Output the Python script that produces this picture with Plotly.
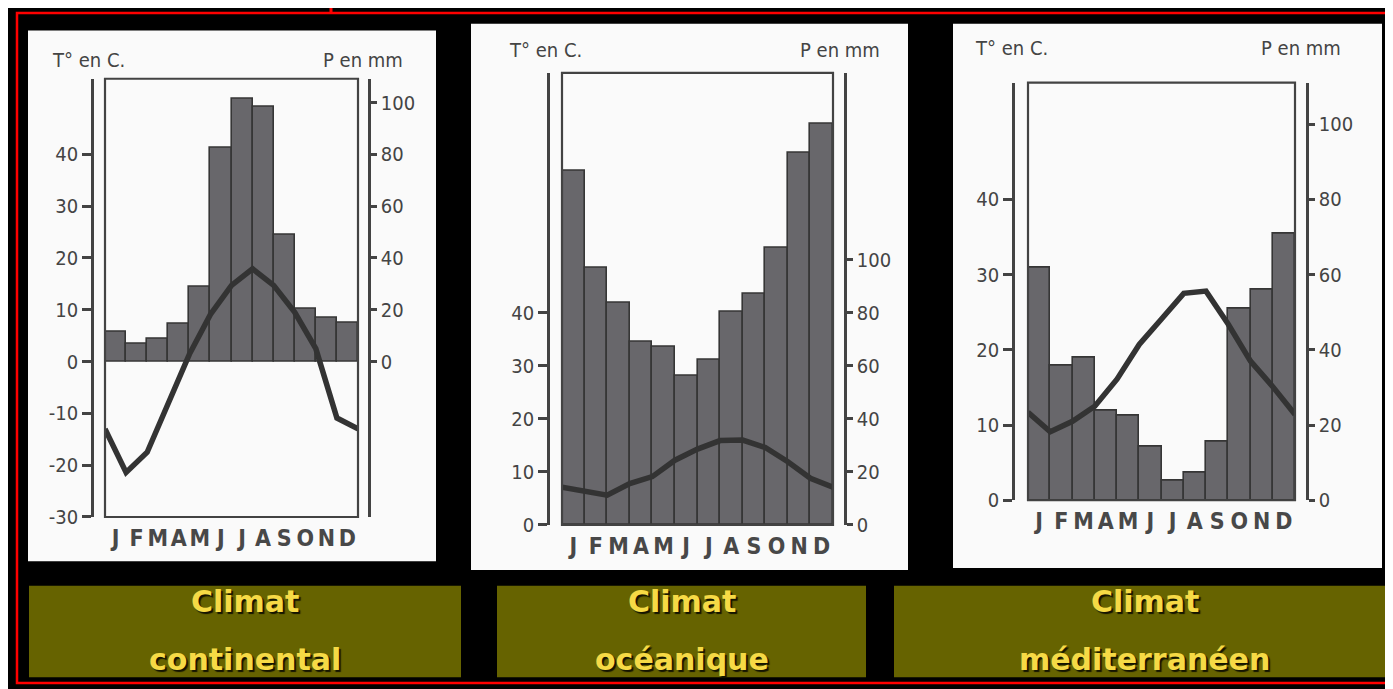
import plotly.graph_objects as go

W, H = 1393, 689

months = ["J", "F", "M", "A", "M", "J", "J", "A", "S", "O", "N", "D"]

# precipitation (mm) per month, temperature (°C) at month boundaries (as drawn)
precip_continental = [11.5, 7.0, 8.7, 14.7, 28.8, 82.4, 101.5, 98.5, 49.1, 20.4, 16.8, 15.0]
temp_continental = [-13.0, -21.4, -17.5, -8.3, 1.4, 9.1, 14.7, 17.9, 14.7, 9.5, 2.5, -10.9, -13.0]

precip_oceanique = [133.8, 97.0, 83.9, 69.2, 67.1, 56.1, 62.3, 80.5, 87.3, 104.7, 140.3, 151.3]
temp_oceanique = [7.1, 6.4, 5.6, 7.8, 9.1, 12.2, 14.3, 15.9, 16.0, 14.6, 11.9, 8.8, 7.1]

precip_mediterraneen = [61.8, 35.9, 37.9, 23.8, 22.5, 14.3, 5.3, 7.3, 15.5, 50.8, 56.0, 70.9]
temp_mediterraneen = [11.7, 9.1, 10.5, 12.5, 16.1, 20.7, 24.1, 27.5, 27.8, 23.4, 18.5, 15.1, 11.4]

temp_ticks_continental = [-30, -20, -10, 0, 10, 20, 30, 40]
temp_ticks_other = [0, 10, 20, 30, 40]
precip_ticks = [0, 20, 40, 60, 80, 100]

titles = [("Climat", "continental"), ("Climat", "océanique"), ("Climat", "méditerranéen")]


def px(x):
    return x / W


def py(y):
    return 1 - y / H


panels = [
    dict(precip=precip_continental, temp=temp_continental, tticks=temp_ticks_continental,
         frame=(97, 350, 72, 518), left=84, right=361, trange=[-30, 54.6],
         white=(20, 428, 23, 563), tlab=(80, 53), plab=(355, 53), box=(21, 453)),
    dict(precip=precip_oceanique, temp=temp_oceanique, tticks=temp_ticks_other,
         frame=(554, 825, 66, 526), left=540, right=837, trange=[0, 85.3],
         white=(463, 900, 16, 572), tlab=(537, 43), plab=(832, 43), box=(489, 858)),
    dict(precip=precip_mediterraneen, temp=temp_mediterraneen, tticks=temp_ticks_other,
         frame=(1020, 1287, 76, 501), left=1005, right=1299, trange=[0, 55.5],
         white=(945, 1374, 16, 570), tlab=(1003, 41), plab=(1293, 41), box=(886, 1387)),
]

INK = "#434343"
NARROW = "DejaVu Sans Condensed, Liberation Sans Narrow, DejaVu Sans, sans-serif"
TITLEFONT = "DejaVu Sans, sans-serif"

fig = go.Figure()
shapes = []
annotations = []
layout_axes = {}

for i, p in enumerate(panels):
    xn = "" if i == 0 else str(i + 1)
    yb = "" if i == 0 else str(2 * i + 1)   # base axis: precipitation (right side)
    yo = str(2 * i + 2)                     # overlay axis: temperature (left side)
    xref, ybref, yoref = "x" + xn, "y" + yb, "y" + yo
    fx0, fx1, fy0, fy1 = p["frame"]
    xdom = [px(fx0), px(fx1)]
    ydom = [py(fy1), py(fy0)]

    fig.add_trace(go.Bar(
        x=list(range(12)), y=p["precip"], xaxis=xref, yaxis=ybref,
        marker=dict(color="#68676b", line=dict(color="#363636", width=1.6)),
        showlegend=False, hoverinfo="skip"))
    fig.add_trace(go.Scatter(
        x=[k - 0.5 for k in range(13)], y=p["temp"], xaxis=xref, yaxis=yoref,
        mode="lines", line=dict(color="#333333", width=5.5),
        showlegend=False, hoverinfo="skip", cliponaxis=False))

    layout_axes["xaxis" + xn] = dict(
        domain=xdom, anchor=ybref, range=[-0.5, 11.5],
        tickmode="array", tickvals=list(range(12)), ticktext=months,
        ticks="", showline=False, showgrid=False, zeroline=False,
        ticklabelstandoff=5,
        tickfont=dict(family=NARROW, size=23, color="#484848", weight="bold"),
        fixedrange=True)
    layout_axes["yaxis" + yb] = dict(
        domain=ydom, side="right", anchor="free", position=px(p["right"]),
        range=[2 * p["trange"][0], 2 * p["trange"][1]],
        tickmode="array", tickvals=precip_ticks, ticktext=[str(v) for v in precip_ticks],
        showline=True, linecolor=INK, linewidth=2.6,
        ticks="outside", ticklen=6, tickwidth=2.6, tickcolor=INK,
        showgrid=False, zeroline=False,
        tickfont=dict(family=NARROW, size=20, color="#444444"),
        fixedrange=True)
    layout_axes["yaxis" + yo] = dict(
        overlaying=ybref, side="left", anchor="free", position=px(p["left"]),
        range=p["trange"],
        tickmode="array", tickvals=p["tticks"], ticktext=[str(v) for v in p["tticks"]],
        showline=True, linecolor=INK, linewidth=2.6,
        ticks="outside", ticklen=9, tickwidth=2.8, tickcolor=INK,
        showgrid=False, zeroline=False,
        tickfont=dict(family=NARROW, size=20, color="#444444"),
        fixedrange=True)

    # white card
    wx0, wx1, wy0, wy1 = p["white"]
    shapes.append(dict(type="rect", xref="paper", yref="paper", layer="below",
                       x0=px(wx0), x1=px(wx1), y0=py(wy1), y1=py(wy0),
                       fillcolor="#fafafa", line=dict(width=0)))
    # plot frame
    shapes.append(dict(type="rect", xref=xref + " domain", yref=ybref + " domain",
                       x0=0, x1=1, y0=0, y1=1, layer="above",
                       line=dict(color=INK, width=2.2), fillcolor="rgba(0,0,0,0)"))
    # olive label box
    bx0, bx1 = p["box"]
    shapes.append(dict(type="rect", xref="paper", yref="paper", layer="below",
                       x0=px(bx0), x1=px(bx1), y0=py(681), y1=py(588),
                       fillcolor="#666300", line=dict(width=0)))

    annotations.append(dict(text="T° en C.", x=px(p["tlab"][0]), y=py(p["tlab"][1]),
                            xref="paper", yref="paper", showarrow=False,
                            xanchor="center", yanchor="middle",
                            font=dict(family=NARROW, size=20, color="#444444")))
    annotations.append(dict(text="P en mm", x=px(p["plab"][0]), y=py(p["plab"][1]),
                            xref="paper", yref="paper", showarrow=False,
                            xanchor="center", yanchor="middle",
                            font=dict(family=NARROW, size=20, color="#444444")))
    cx = px((bx0 + bx1) / 2)
    for line_text, yy in zip(titles[i], (604, 663)):
        annotations.append(dict(text=line_text, x=cx, y=py(yy), xref="paper", yref="paper",
                                showarrow=False, xanchor="center", yanchor="middle",
                                font=dict(family=TITLEFONT, size=30, color="#f6da45",
                                          weight="bold", shadow="2px 2px 1px #141400")))

# red outer border and small red mark at top
shapes.append(dict(type="rect", xref="paper", yref="paper", layer="above",
                   x0=px(9), x1=px(1390), y0=py(687), y1=py(5),
                   line=dict(color="#ff0000", width=2.5), fillcolor="rgba(0,0,0,0)"))
shapes.append(dict(type="line", xref="paper", yref="paper", layer="above",
                   x0=px(323), x1=px(323), y0=py(0), y1=py(6),
                   line=dict(color="#ff0000", width=3)))

fig.update_layout(
    width=W, height=H, margin=dict(l=0, r=0, t=0, b=0),
    paper_bgcolor="#000000", plot_bgcolor="#fafafa",
    bargap=0, showlegend=False,
    shapes=shapes, annotations=annotations,
    **layout_axes)

fig.write_html("out.html", config={"displayModeBar": False})
